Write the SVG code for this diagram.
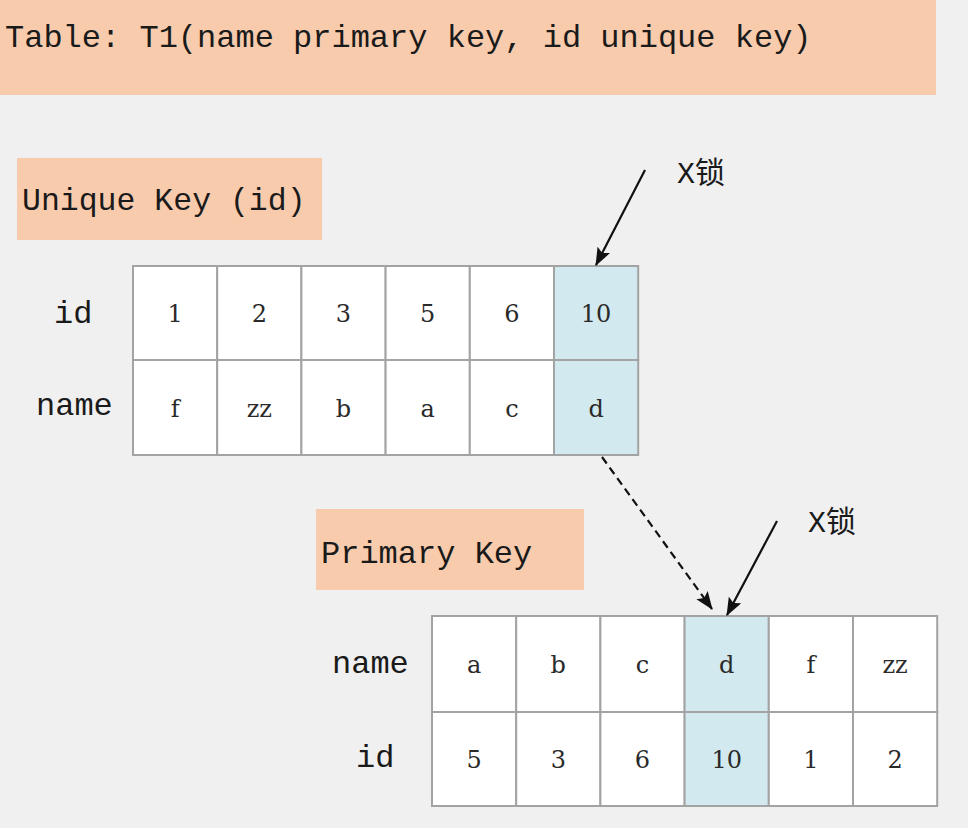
<svg xmlns="http://www.w3.org/2000/svg" width="968" height="836" viewBox="0 0 968 836">
  <defs>
    <style>
      .mono { font-family: "Liberation Mono", "Noto Sans CJK SC", monospace; fill: #1a1a1a; }
      .label { font-size: 32px; }
      .cell { fill: #ffffff; stroke: #a3a3a3; stroke-width: 2; }
      .hot { fill: #d2e9ef; stroke: #a3a3a3; stroke-width: 2; }
      .val { font-family: "DejaVu Serif", "Liberation Serif", serif; font-size: 24px; fill: #2a2a2a; text-anchor: middle; }
      .tag { fill: #f8cbad; }
      .lock { font-family: "Liberation Mono", "Noto Sans CJK SC", monospace; font-size: 30px; fill: #1a1a1a; }
      .cjk { font-family: "Noto Sans CJK SC", sans-serif; }
      .link { stroke: #111; stroke-width: 2.2; fill: none; }
      .dash { stroke-dasharray: 8 5; }
    </style>
    <marker id="head" viewBox="0 0 18 14" refX="17" refY="7" markerWidth="18" markerHeight="14" markerUnits="userSpaceOnUse" orient="auto">
      <path d="M0,0 L18,7 L0,14 L3.5,7 z" fill="#111"/>
    </marker>
  </defs>

  <!-- canvas -->
  <rect x="0" y="0" width="968" height="836" fill="#f0f0f0"/>
  <rect x="0" y="828" width="968" height="8" fill="#ffffff"/>

  <!-- title banner -->
  <g id="title">
    <rect class="tag" x="0" y="0" width="936" height="95"/>
    <text class="mono label" x="5" y="47">Table: T1(name primary key, id unique key)</text>
  </g>

  <!-- unique key index -->
  <g id="uk-label">
    <rect class="tag" x="17" y="158" width="305" height="82"/>
    <text class="mono" x="22" y="210" font-size="31.5">Unique Key (id)</text>
  </g>

  <g id="uk-table">
    <text class="mono label" x="54" y="323">id</text>
    <text class="mono label" x="36" y="415">name</text>
    <rect class="cell" x="133" y="266" width="84.2" height="94"/>
    <rect class="cell" x="217.2" y="266" width="84.2" height="94"/>
    <rect class="cell" x="301.4" y="266" width="84.2" height="94"/>
    <rect class="cell" x="385.6" y="266" width="84.2" height="94"/>
    <rect class="cell" x="469.8" y="266" width="84.2" height="94"/>
    <rect class="hot" x="554" y="266" width="84.2" height="94"/>
    <rect class="cell" x="133" y="360" width="84.2" height="95"/>
    <rect class="cell" x="217.2" y="360" width="84.2" height="95"/>
    <rect class="cell" x="301.4" y="360" width="84.2" height="95"/>
    <rect class="cell" x="385.6" y="360" width="84.2" height="95"/>
    <rect class="cell" x="469.8" y="360" width="84.2" height="95"/>
    <rect class="hot" x="554" y="360" width="84.2" height="95"/>
    <text class="val" x="175.1" y="322">1</text>
    <text class="val" x="259.3" y="322">2</text>
    <text class="val" x="343.5" y="322">3</text>
    <text class="val" x="427.7" y="322">5</text>
    <text class="val" x="511.9" y="322">6</text>
    <text class="val" x="596.1" y="322">10</text>
    <text class="val" x="175.1" y="417">f</text>
    <text class="val" x="259.3" y="417">zz</text>
    <text class="val" x="343.5" y="417">b</text>
    <text class="val" x="427.7" y="417">a</text>
    <text class="val" x="511.9" y="417">c</text>
    <text class="val" x="596.1" y="417">d</text>
  </g>

  <g id="uk-lock">
    <text class="lock" x="677" y="183">X<tspan class="cjk">锁</tspan></text>
  </g>

  <!-- primary key index -->
  <g id="pk-label">
    <rect class="tag" x="316" y="509" width="268" height="81"/>
    <text class="mono label" x="321" y="563">Primary Key</text>
  </g>

  <g id="pk-table">
    <text class="mono label" x="332" y="673">name</text>
    <text class="mono label" x="356" y="767">id</text>
    <rect class="cell" x="432" y="616" width="84.2" height="96"/>
    <rect class="cell" x="516.2" y="616" width="84.2" height="96"/>
    <rect class="cell" x="600.4" y="616" width="84.2" height="96"/>
    <rect class="hot" x="684.6" y="616" width="84.2" height="96"/>
    <rect class="cell" x="768.8" y="616" width="84.2" height="96"/>
    <rect class="cell" x="853" y="616" width="84.2" height="96"/>
    <rect class="cell" x="432" y="712" width="84.2" height="94"/>
    <rect class="cell" x="516.2" y="712" width="84.2" height="94"/>
    <rect class="cell" x="600.4" y="712" width="84.2" height="94"/>
    <rect class="hot" x="684.6" y="712" width="84.2" height="94"/>
    <rect class="cell" x="768.8" y="712" width="84.2" height="94"/>
    <rect class="cell" x="853" y="712" width="84.2" height="94"/>
    <text class="val" x="474.1" y="673">a</text>
    <text class="val" x="558.3" y="673">b</text>
    <text class="val" x="642.5" y="673">c</text>
    <text class="val" x="726.7" y="673">d</text>
    <text class="val" x="810.9" y="673">f</text>
    <text class="val" x="895.1" y="673">zz</text>
    <text class="val" x="474.1" y="768">5</text>
    <text class="val" x="558.3" y="768">3</text>
    <text class="val" x="642.5" y="768">6</text>
    <text class="val" x="726.7" y="768">10</text>
    <text class="val" x="810.9" y="768">1</text>
    <text class="val" x="895.1" y="768">2</text>
  </g>

  <g id="pk-lock">
    <text class="lock" x="808" y="532">X<tspan class="cjk">锁</tspan></text>
  </g>

  <!-- connectors -->
  <g id="connectors">
    <line class="link" x1="645" y1="170" x2="596" y2="265" marker-end="url(#head)"/>
    <line class="link dash" x1="602" y1="457" x2="712" y2="609" marker-end="url(#head)"/>
    <line class="link" x1="777" y1="521" x2="727" y2="615" marker-end="url(#head)"/>
  </g>
</svg>
